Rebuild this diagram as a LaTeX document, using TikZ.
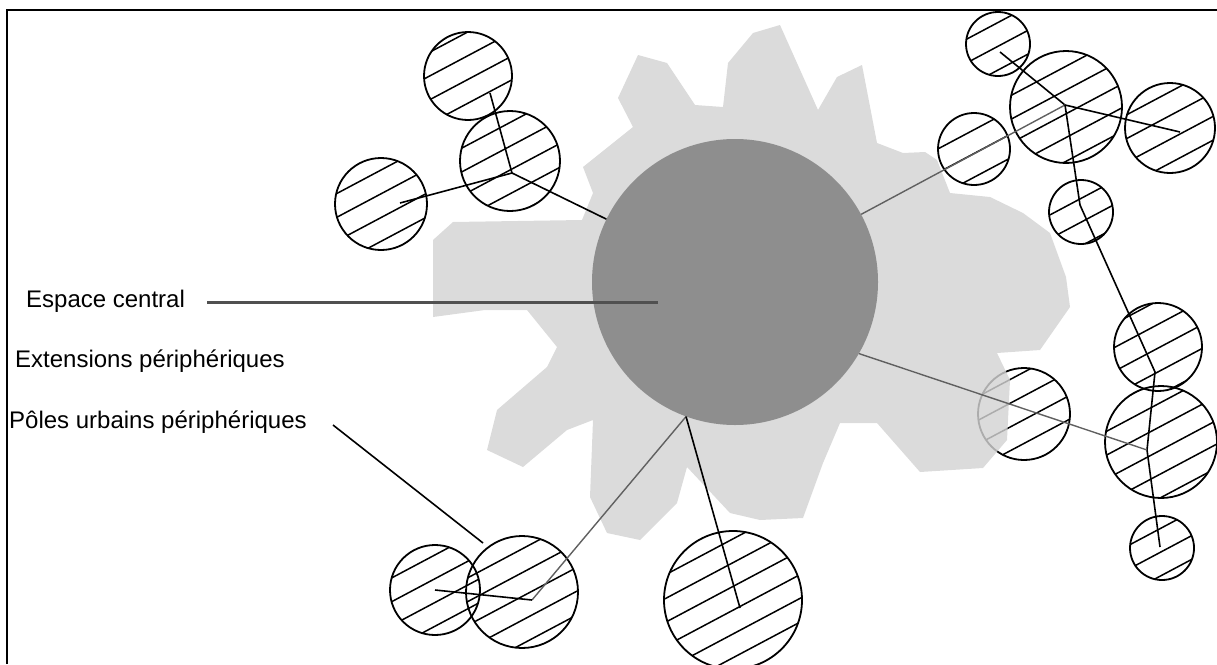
\documentclass[tikz,border=0pt]{standalone}
\usepackage{fontspec}
\setmainfont{Liberation Sans}
\definecolor{blobc}{HTML}{D3D3D3}
\definecolor{corec}{HTML}{8E8E8E}
\definecolor{linkc}{HTML}{606060}
\definecolor{leadc}{HTML}{505050}
\begin{document}
\begin{tikzpicture}[x=1pt,y=-1pt,
  pole/.style 2 args={circle, draw=black, line width=1.8pt, inner sep=0pt, minimum size=#1,
    path picture={
      \foreach \k in {-5,...,5}{
        \pgfmathsetmacro{\s}{\k*21+#2}
        \pgfmathsetmacro{\ax}{\s*0.469-130*0.883}
        \pgfmathsetmacro{\ay}{\s*0.883+130*0.469}
        \pgfmathsetmacro{\bx}{\s*0.469+130*0.883}
        \pgfmathsetmacro{\by}{\s*0.883-130*0.469}
        \draw[line width=1.5pt,black] ([shift={(\ax,\ay)}]path picture bounding box.center) -- ([shift={(\bx,\by)}]path picture bounding box.center);}}},
  core/.style={circle, fill=corec, inner sep=0pt, minimum size=286},
  label/.style={anchor=base west, font=\fontsize{24}{28}\selectfont, inner sep=0pt},
  link/.style={draw=linkc, line width=1.4pt},
  tie/.style={draw=black, line width=1.6pt},
  lead/.style={draw=leadc, line width=3pt}]
\useasboundingbox (0,0) rectangle (1217,664);
% frame
\draw[line width=2pt] (7,664) -- (7,10) -- (1217,10);
% circle partly under the extension area
\node[pole={92}{5}] (L) at (1024,414) {};
% peripheral extensions
\fill[blobc, fill opacity=0.82] (640,540) -- (677,503) -- (687,467) -- (730,513) -- (760,520) -- (803,518) -- (823,463) -- (840,423) -- (877,423) -- (920,472) -- (983,468) -- (1007,440) -- (1010,380) -- (997,353) -- (1040,350) -- (1070,307) -- (1066,277) -- (1050,233) -- (1023,213) -- (990,197) -- (950,193) -- (937,160) -- (925,152) -- (903,153) -- (877,143) -- (862,65) -- (837,77) -- (818,110) -- (780,25) -- (753,33) -- (728,63) -- (723,107) -- (695,105) -- (667,63) -- (638,55) -- (618,98) -- (633,127) -- (583,167) -- (593,193) -- (582,220) -- (453,222) -- (433,240) -- (433,317) -- (485,310) -- (527,310) -- (557,347) -- (547,367) -- (497,410) -- (487,450) -- (523,467) -- (567,430) -- (593,420) -- (590,497) -- (607,533) -- cycle;
% central space
\node[core] (central) at (735,282) {};
% peripheral poles
\node[pole={88}{3}] (A) at (468,76) {};
\node[pole={100}{8}] (B) at (510,161) {};
\node[pole={92}{12}] (C) at (381,204) {};
\node[pole={64}{2}] (D) at (998,44) {};
\node[pole={112}{6}] (E) at (1066,107) {};
\node[pole={90}{10}] (F) at (1170,128) {};
\node[pole={72}{4}] (G) at (974,149) {};
\node[pole={64}{9}] (H) at (1081,212) {};
\node[pole={88}{1}] (I) at (1158,347) {};
\node[pole={112}{7}] (J) at (1161,442) {};
\node[pole={64}{3}] (K) at (1162,548) {};
\node[pole={90}{11}] (M) at (435,590) {};
\node[pole={112}{4}] (N) at (522,592) {};
\node[pole={138}{9}] (O) at (733,600) {};
% hubs and ends
\coordinate (pA) at (490,93);
\coordinate (hubB) at (512,173);
\coordinate (pC) at (400,203);
\coordinate (pD) at (1000,52);
\coordinate (hubE) at (1065,105);
\coordinate (pF) at (1180,132);
\coordinate (pH) at (1080,205);
\coordinate (pI) at (1155,372);
\coordinate (hubJ) at (1147,450);
\coordinate (pK) at (1160,547);
\coordinate (hubN) at (532,600);
\coordinate (pM) at (435,590);
\coordinate (pO) at (740,608);
% connectors
\draw[tie] (pA) -- (hubB) -- (pC);
\draw[tie] (central) -- (hubB);
\draw[tie] (pD) -- (hubE) -- (pF);
\draw[link] (central) -- (hubE);
\draw[tie] (hubE) -- (pH) -- (pI) -- (hubJ) -- (pK);
\draw[link] (central.-30) -- (hubJ);
\draw[link] (central.250) -- (hubN);
\draw[tie] (hubN) -- (pM);
\draw[tie] (central.250) -- (pO);
% labels
\node[label] (tEC) at (26,307) {Espace central};
\node[label] (tEP) at (15,367) {Extensions périphériques};
\node[label] (tPU) at (9,428) {Pôles urbains périphériques};
\coordinate (ec1) at (207,302);
\coordinate (ec2) at (658,302);
\draw[lead] (ec1) -- (ec2);
\coordinate (pu1) at (333,425);
\coordinate (pu2) at (483,543);
\draw[tie] (pu1) -- (pu2);
\end{tikzpicture}
\end{document}
